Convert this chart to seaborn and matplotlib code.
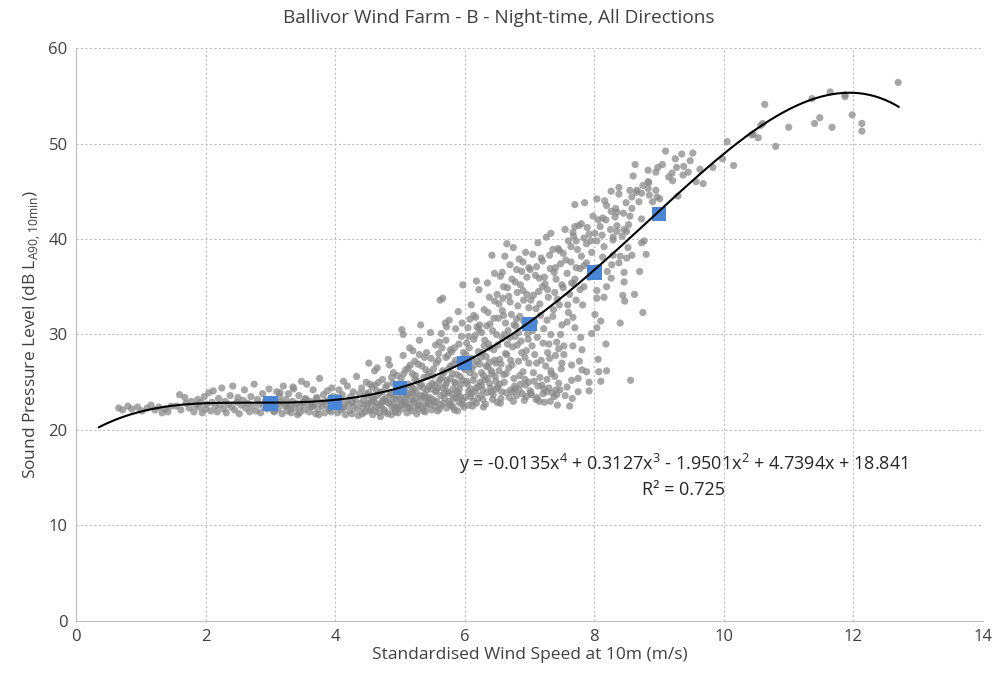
import numpy as np
import pandas as pd
import matplotlib.pyplot as plt
import seaborn as sns

calm_points = [(0.66, 22.3), (0.72, 22.1), (0.80, 22.5), (0.86, 22.2), (0.95, 22.4), (1.02, 22.0),
               (1.10, 22.3), (1.16, 22.6), (1.22, 22.1), (1.28, 22.4), (1.33, 21.8), (1.38, 22.2),
               (1.42, 21.9), (1.47, 22.5)]

light_points = [(1.55, 22.5), (1.60, 23.7), (1.62, 22.1), (1.68, 23.4), (1.70, 22.8), (1.75, 22.3),
                (1.78, 23.0), (1.82, 21.9), (1.85, 22.6), (1.88, 23.2), (1.90, 22.4), (1.93, 22.9),
                (1.95, 21.8), (1.98, 23.5), (2.00, 22.2), (2.02, 22.7), (2.05, 23.9), (2.08, 22.0),
                (2.10, 22.9), (2.12, 24.1), (2.15, 22.5), (2.18, 21.9), (2.20, 23.3), (2.22, 22.6),
                (2.25, 24.4), (2.28, 22.2), (2.30, 23.0), (2.32, 21.8), (2.35, 22.7), (2.38, 23.6),
                (2.40, 22.4), (2.42, 24.6), (2.45, 22.1), (2.48, 22.9), (2.50, 23.4), (2.52, 21.7),
                (2.55, 22.6), (2.58, 23.1), (2.60, 24.2), (2.62, 22.3), (2.65, 22.8), (2.68, 21.9),
                (2.70, 23.5), (2.72, 22.5), (2.75, 24.8), (2.78, 22.0), (2.80, 23.2), (2.82, 22.7),
                (2.85, 21.8), (2.88, 23.8), (2.90, 22.4), (2.92, 23.0), (2.95, 22.2), (2.98, 24.3)]

low_points = [(3.02, 22.4), (3.04, 23.1), (3.06, 21.9), (3.08, 22.7), (3.10, 24.0), (3.12, 22.2),
              (3.14, 23.5), (3.16, 22.9), (3.18, 21.7), (3.20, 24.6), (3.22, 22.5), (3.24, 23.2),
              (3.26, 22.0), (3.28, 23.8), (3.30, 22.6), (3.32, 21.8), (3.34, 23.0), (3.36, 24.3),
              (3.38, 22.3), (3.40, 22.8), (3.42, 21.6), (3.44, 23.6), (3.46, 22.4), (3.48, 25.1),
              (3.50, 22.9), (3.52, 22.1), (3.54, 23.3), (3.56, 24.8), (3.58, 22.6), (3.60, 21.9),
              (3.62, 23.0), (3.64, 22.4), (3.66, 24.2), (3.68, 22.7), (3.70, 21.7), (3.72, 23.4),
              (3.74, 22.2), (3.76, 25.4), (3.78, 22.9), (3.80, 22.5), (3.82, 23.7), (3.84, 21.8),
              (3.86, 22.6), (3.88, 24.1), (3.90, 23.1), (3.92, 22.3), (3.94, 21.9), (3.96, 23.5),
              (3.98, 22.8), (3.05, 22.0), (3.15, 23.9), (3.25, 22.6), (3.35, 24.5), (3.45, 21.8),
              (3.55, 23.2), (3.65, 22.5), (3.75, 21.6), (3.85, 23.0), (3.95, 24.4), (3.11, 22.7),
              (3.31, 22.2), (3.51, 22.9), (3.71, 23.3), (3.91, 22.1)]

moderate_points = [(4.01, 22.6), (4.03, 23.4), (4.04, 21.8), (4.06, 24.2), (4.08, 22.9), (4.09, 22.1),
                   (4.11, 23.7), (4.13, 25.1), (4.14, 22.4), (4.16, 21.6), (4.18, 23.0), (4.19, 24.6),
                   (4.21, 22.7), (4.23, 22.0), (4.24, 23.5), (4.26, 21.7), (4.28, 24.0), (4.29, 22.5),
                   (4.31, 23.2), (4.33, 25.6), (4.34, 22.2), (4.36, 21.5), (4.38, 23.8), (4.39, 22.8),
                   (4.41, 24.4), (4.43, 22.3), (4.44, 23.1), (4.46, 21.9), (4.48, 25.0), (4.49, 22.6),
                   (4.51, 23.6), (4.53, 22.0), (4.54, 24.8), (4.56, 22.9), (4.58, 21.6), (4.59, 23.3),
                   (4.61, 26.2), (4.63, 22.4), (4.64, 24.1), (4.66, 22.7), (4.68, 21.8), (4.69, 23.9),
                   (4.71, 22.5), (4.73, 25.3), (4.74, 23.0), (4.76, 22.1), (4.78, 24.5), (4.79, 23.4),
                   (4.81, 21.7), (4.83, 22.8), (4.84, 26.8), (4.86, 23.7), (4.88, 22.3), (4.89, 24.9),
                   (4.91, 22.6), (4.93, 21.9), (4.94, 23.2), (4.96, 25.7), (4.98, 22.4), (4.99, 24.2),
                   (4.52, 27.0), (4.65, 26.5), (4.70, 21.4), (4.82, 27.4), (4.90, 26.0), (4.97, 23.6),
                   (4.12, 22.3), (4.27, 22.9), (4.42, 21.7), (4.57, 23.1), (4.72, 22.9), (4.87, 21.6),
                   (4.95, 22.2), (4.62, 24.7), (4.47, 23.8),
                   (4.50, 22.8), (4.52, 23.9), (4.55, 22.2), (4.57, 24.5), (4.60, 23.0), (4.62, 22.0),
                   (4.65, 23.6), (4.67, 25.0), (4.70, 22.6), (4.72, 24.0), (4.75, 23.2), (4.77, 21.9),
                   (4.80, 24.7), (4.82, 22.9), (4.85, 23.9), (4.87, 25.5), (4.90, 23.3), (4.92, 22.4),
                   (4.95, 24.6), (4.97, 21.8)]

rising_points = [(5.01, 23.1), (5.02, 25.4), (5.03, 22.2), (5.05, 27.8), (5.06, 24.0), (5.07, 22.7),
                 (5.09, 26.3), (5.10, 23.5), (5.11, 21.8), (5.13, 24.8), (5.14, 22.5), (5.15, 28.6),
                 (5.17, 23.9), (5.18, 22.0), (5.19, 25.9), (5.21, 24.3), (5.22, 22.9), (5.23, 27.2),
                 (5.25, 23.3), (5.26, 21.7), (5.27, 25.1), (5.29, 22.6), (5.30, 29.4), (5.31, 24.6),
                 (5.33, 23.0), (5.34, 26.7), (5.35, 22.3), (5.37, 25.5), (5.38, 23.7), (5.39, 21.9),
                 (5.41, 28.1), (5.42, 24.2), (5.43, 22.8), (5.45, 26.0), (5.46, 23.4), (5.47, 30.2),
                 (5.49, 22.1), (5.50, 24.9), (5.04, 23.6), (5.12, 22.4), (5.20, 23.8), (5.28, 22.2),
                 (5.36, 24.4), (5.44, 23.1), (5.48, 27.5), (5.16, 26.8), (5.24, 25.7), (5.32, 31.0),
                 (5.40, 22.5), (5.08, 24.4), (5.03, 30.5), (5.05, 30.0),
                 (5.01, 22.6), (5.03, 24.1), (5.06, 25.9), (5.08, 22.9), (5.11, 23.8), (5.13, 26.5),
                 (5.16, 22.3), (5.18, 24.5), (5.21, 23.1), (5.23, 25.3), (5.26, 22.5), (5.28, 26.9),
                 (5.31, 23.6), (5.33, 24.8), (5.36, 22.0), (5.38, 27.6), (5.41, 23.4), (5.43, 25.6),
                 (5.46, 22.7), (5.48, 24.3), (5.15, 23.2), (5.25, 24.0), (5.35, 23.5), (5.45, 24.6),
                 (5.05, 23.0), (5.30, 27.9), (5.40, 26.3), (5.20, 28.3),
                 (5.51, 23.2), (5.52, 26.4), (5.54, 22.5), (5.55, 28.9), (5.56, 24.1), (5.58, 22.0),
                 (5.59, 27.3), (5.60, 25.0), (5.62, 33.6), (5.63, 23.6), (5.64, 30.1), (5.66, 33.8),
                 (5.67, 22.8), (5.68, 26.0), (5.70, 24.6), (5.71, 29.4), (5.72, 22.3), (5.74, 27.8),
                 (5.75, 23.9), (5.76, 31.5), (5.78, 25.4), (5.79, 22.6), (5.80, 28.2), (5.82, 24.3),
                 (5.83, 26.9), (5.84, 22.1), (5.86, 30.6), (5.87, 23.4), (5.88, 25.8), (5.90, 32.4),
                 (5.91, 22.9), (5.92, 27.1), (5.94, 24.8), (5.95, 29.8), (5.96, 23.1), (5.98, 26.5),
                 (5.99, 22.4), (5.53, 24.7), (5.57, 23.0), (5.61, 22.2), (5.65, 25.5), (5.69, 23.3),
                 (5.73, 24.0), (5.77, 22.7), (5.81, 23.7), (5.85, 24.9), (5.89, 22.0), (5.93, 23.5),
                 (5.97, 25.2), (5.60, 28.0), (5.72, 30.8), (5.84, 28.6), (5.96, 31.2), (5.66, 24.4),
                 (5.78, 26.7), (5.90, 23.8), (5.97, 35.2),
                 (5.51, 25.7), (5.53, 22.9), (5.56, 27.0), (5.58, 24.4), (5.61, 29.2), (5.63, 22.6),
                 (5.66, 26.2), (5.68, 23.8), (5.71, 27.6), (5.73, 25.2), (5.76, 23.0), (5.78, 28.4),
                 (5.81, 25.9), (5.83, 23.3), (5.86, 27.3), (5.88, 24.1), (5.91, 29.0), (5.93, 25.6),
                 (5.96, 22.7), (5.98, 28.1), (5.55, 24.0), (5.65, 28.6), (5.75, 26.4), (5.85, 25.0),
                 (5.95, 26.9), (5.62, 25.3), (5.72, 24.9), (5.82, 22.4), (5.92, 24.3), (5.70, 31.2)]

spread_points = [(6.01, 23.4), (6.02, 27.9), (6.03, 25.1), (6.05, 30.7), (6.06, 22.6), (6.07, 28.6),
                 (6.09, 24.3), (6.10, 33.1), (6.11, 26.4), (6.13, 23.0), (6.14, 29.5), (6.15, 25.7),
                 (6.17, 31.8), (6.18, 22.8), (6.19, 27.2), (6.21, 24.6), (6.22, 34.7), (6.23, 26.9),
                 (6.25, 23.6), (6.26, 30.2), (6.27, 28.1), (6.29, 22.4), (6.30, 32.6), (6.31, 25.3),
                 (6.33, 27.7), (6.34, 23.9), (6.35, 35.4), (6.37, 29.0), (6.38, 24.9), (6.39, 31.1),
                 (6.41, 26.2), (6.42, 38.3), (6.43, 23.2), (6.45, 28.4), (6.46, 33.5), (6.47, 25.6),
                 (6.49, 30.0), (6.50, 22.9), (6.04, 24.8), (6.08, 26.0), (6.12, 22.5), (6.16, 24.0),
                 (6.20, 23.3), (6.24, 25.0), (6.28, 24.2), (6.32, 22.7), (6.36, 26.6), (6.40, 24.4),
                 (6.44, 23.7), (6.48, 27.0), (6.06, 29.8), (6.14, 32.0), (6.22, 30.5), (6.30, 28.8),
                 (6.38, 33.9), (6.46, 36.4), (6.10, 23.8), (6.26, 24.7), (6.34, 30.9), (6.42, 25.9),
                 (6.50, 34.2), (6.18, 35.6),
                 (6.01, 26.3), (6.03, 29.1), (6.06, 24.0), (6.08, 31.6), (6.11, 27.5), (6.13, 25.2),
                 (6.16, 29.9), (6.18, 24.4), (6.21, 28.2), (6.23, 31.0), (6.26, 26.0), (6.28, 23.2),
                 (6.31, 29.4), (6.33, 26.7), (6.36, 32.3), (6.38, 27.1), (6.41, 24.0), (6.43, 30.4),
                 (6.46, 27.3), (6.48, 25.1), (6.05, 27.0), (6.15, 26.8), (6.25, 27.6), (6.35, 25.4),
                 (6.45, 31.7), (6.09, 23.5), (6.19, 30.8), (6.29, 25.7), (6.39, 28.6), (6.49, 24.3),
                 (6.51, 24.5), (6.52, 31.7), (6.54, 27.4), (6.55, 36.1), (6.56, 23.3), (6.58, 29.6),
                 (6.59, 33.8), (6.60, 25.8), (6.62, 38.2), (6.63, 28.0), (6.64, 23.9), (6.66, 34.9),
                 (6.67, 30.4), (6.68, 26.5), (6.70, 37.3), (6.71, 24.2), (6.72, 32.1), (6.74, 28.7),
                 (6.75, 39.1), (6.76, 25.4), (6.78, 35.5), (6.79, 30.9), (6.80, 23.6), (6.82, 33.0),
                 (6.83, 27.2), (6.84, 37.9), (6.86, 24.8), (6.87, 29.3), (6.88, 36.6), (6.90, 26.1),
                 (6.91, 31.4), (6.92, 23.1), (6.94, 38.6), (6.95, 28.3), (6.96, 34.2), (6.98, 25.0),
                 (6.99, 32.8), (6.53, 26.2), (6.57, 24.0), (6.61, 30.0), (6.65, 27.9), (6.69, 23.4),
                 (6.73, 26.8), (6.77, 24.6), (6.81, 28.9), (6.85, 31.9), (6.89, 23.8), (6.93, 27.6),
                 (6.97, 30.1), (6.60, 35.0), (6.70, 33.4), (6.80, 36.8), (6.90, 34.6), (6.99, 37.0),
                 (6.55, 22.8), (6.75, 23.0), (6.95, 23.5), (6.65, 39.5), (6.85, 25.7), (6.58, 32.5),
                 (6.78, 29.8),
                 (6.51, 28.9), (6.53, 33.2), (6.56, 26.9), (6.58, 36.5), (6.61, 25.0), (6.63, 31.2),
                 (6.66, 29.0), (6.68, 34.0), (6.71, 27.3), (6.73, 35.8), (6.76, 31.0), (6.78, 24.3),
                 (6.81, 34.4), (6.83, 30.2), (6.86, 35.2), (6.88, 28.1), (6.91, 33.6), (6.93, 25.3),
                 (6.96, 36.0), (6.98, 29.5), (6.54, 24.8), (6.64, 25.9), (6.74, 24.0), (6.84, 24.2),
                 (6.94, 24.7), (6.60, 32.0), (6.70, 29.7), (6.80, 31.6), (6.90, 37.6), (6.99, 27.0)]

strong_points = [(7.01, 24.1), (7.02, 33.6), (7.04, 28.8), (7.05, 38.4), (7.06, 26.0), (7.08, 31.3),
                 (7.09, 36.2), (7.10, 23.2), (7.12, 29.7), (7.13, 39.6), (7.14, 34.5), (7.16, 25.5),
                 (7.17, 32.0), (7.18, 27.3), (7.20, 37.7), (7.21, 23.8), (7.22, 30.6), (7.24, 35.3),
                 (7.25, 26.7), (7.26, 40.2), (7.28, 28.1), (7.29, 33.9), (7.30, 24.4), (7.32, 36.9),
                 (7.33, 30.0), (7.34, 25.9), (7.36, 38.9), (7.37, 32.6), (7.38, 23.5), (7.40, 27.8),
                 (7.41, 35.8), (7.42, 29.2), (7.44, 39.0), (7.45, 24.9), (7.46, 33.1), (7.48, 37.4),
                 (7.49, 26.4), (7.50, 31.0), (7.03, 23.7), (7.07, 25.1), (7.11, 27.0), (7.15, 23.0),
                 (7.19, 24.7), (7.23, 22.9), (7.27, 25.3), (7.31, 27.5), (7.35, 23.9), (7.39, 25.6),
                 (7.43, 22.6), (7.47, 24.2), (7.15, 35.9), (7.27, 31.5), (7.39, 34.4), (7.05, 30.4),
                 (7.45, 28.5), (7.33, 40.6),
                 (7.01, 36.8), (7.03, 30.9), (7.06, 34.1), (7.08, 27.9), (7.11, 37.1), (7.13, 24.6),
                 (7.16, 33.2), (7.18, 38.0), (7.21, 29.1), (7.23, 36.0), (7.26, 24.0), (7.28, 34.7),
                 (7.31, 38.3), (7.33, 26.2), (7.36, 31.9), (7.38, 36.5), (7.41, 24.2), (7.43, 33.7),
                 (7.46, 38.8), (7.48, 30.0), (7.02, 23.9), (7.12, 23.4), (7.22, 24.3), (7.32, 23.0),
                 (7.42, 23.7), (7.10, 32.7), (7.20, 35.0), (7.30, 29.0), (7.40, 37.0), (7.50, 35.2),
                 (7.52, 38.5), (7.55, 41.0), (7.58, 36.4), (7.60, 39.8), (7.62, 34.2), (7.64, 37.6),
                 (7.68, 40.3), (7.70, 35.8), (7.74, 38.9), (7.78, 36.9), (7.80, 41.6), (7.84, 37.2),
                 (7.88, 39.5), (7.92, 36.0), (7.96, 38.6), (7.98, 42.4), (7.70, 43.6), (7.85, 43.8),
                 (7.72, 39.8), (7.84, 40.1), (7.95, 39.8), (7.67, 40.7), (7.89, 41.2), (7.70, 41.3),
                 (7.62, 22.5), (7.75, 24.0), (7.92, 24.1), (7.92, 25.0), (7.58, 24.5), (7.65, 25.2),
                 (7.75, 25.4), (7.81, 26.3), (7.50, 27.0), (7.65, 26.8), (7.53, 27.9), (7.53, 28.8),
                 (7.67, 28.8), (7.81, 28.4), (7.79, 29.7), (7.96, 30.1), (7.70, 30.7), (7.58, 31.3),
                 (7.67, 31.8), (7.82, 33.1), (7.72, 33.6), (7.59, 33.1), (7.78, 34.7), (7.65, 35.4),
                 (7.52, 34.9), (7.56, 37.8), (7.60, 32.3), (7.64, 39.2), (7.68, 35.3), (7.72, 37.0),
                 (7.76, 41.4), (7.80, 38.2), (7.84, 35.0), (7.88, 37.5), (7.92, 40.5), (7.96, 36.3),
                 (7.55, 23.6), (7.66, 23.3), (7.77, 27.2), (7.88, 26.1)]

high_points = [(8.04, 44.2), (8.16, 44.0), (8.19, 43.5), (8.33, 43.2), (8.49, 43.8), (8.58, 43.2),
               (8.35, 42.8), (8.26, 42.9), (8.73, 42.1), (8.13, 42.2), (8.18, 42.0), (8.06, 42.0),
               (8.32, 42.3), (8.09, 41.3), (8.01, 40.6), (8.35, 41.4), (8.46, 41.0), (8.53, 41.5),
               (8.12, 40.4), (8.29, 40.2), (8.43, 40.3), (8.50, 40.8), (8.04, 39.8), (8.77, 39.8),
               (8.52, 39.1), (8.29, 39.9), (8.38, 44.7), (8.58, 44.4), (8.69, 43.9), (8.97, 44.4),
               (9.01, 44.2), (8.90, 43.9), (9.29, 44.5), (8.60, 46.6), (8.83, 46.0), (8.84, 45.9),
               (8.83, 45.3), (8.38, 45.4), (8.26, 45.0), (8.55, 45.1), (8.66, 45.1), (8.73, 44.8),
               (9.10, 49.2), (9.27, 47.5), (9.38, 47.6), (8.98, 47.5), (8.83, 47.2), (8.63, 47.8),
               (8.95, 47.0), (9.20, 46.9), (9.37, 46.7), (9.68, 45.8), (9.57, 46.0), (9.21, 46.1),
               (8.75, 32.3), (8.56, 25.2), (8.80, 38.4), (8.73, 39.6), (8.58, 38.3), (8.46, 36.5),
               (8.46, 35.5), (8.44, 34.1), (8.47, 33.5), (8.26, 35.9), (8.19, 35.0), (8.15, 33.9),
               (8.04, 34.6), (8.04, 33.8), (8.01, 32.1), (8.10, 31.4), (8.04, 30.7), (8.18, 29.0),
               (8.06, 27.4), (8.07, 26.1), (8.19, 26.2), (8.10, 25.1), (8.29, 38.3), (8.27, 37.3),
               (8.38, 37.5), (8.40, 38.2), (8.13, 38.1),
               (8.05, 37.0), (8.15, 39.2), (8.25, 41.0), (8.35, 40.8), (8.45, 42.7), (8.55, 42.4),
               (8.65, 44.9), (8.75, 45.6), (8.85, 44.6), (8.95, 45.1), (9.05, 47.8), (9.15, 46.5),
               (9.25, 48.4), (9.35, 48.9), (9.45, 47.0), (8.20, 36.6), (8.50, 38.0), (8.40, 31.2),
               (8.70, 36.6), (8.62, 34.2)]

top_points = [(12.69, 56.4), (11.64, 55.4), (11.87, 55.1), (11.87, 54.9), (11.36, 54.7), (10.63, 54.1),
              (11.98, 53.0), (12.13, 52.1), (12.13, 51.3), (11.40, 52.1), (11.48, 52.7), (11.67, 51.7),
              (11.00, 51.7), (10.60, 52.1), (10.57, 51.9), (10.43, 50.9), (10.53, 50.6), (10.80, 49.7),
              (10.05, 50.2), (9.98, 48.4), (10.15, 47.7), (9.52, 49.0), (9.48, 48.2), (9.63, 47.3),
              (9.83, 47.5), (10.45, 51.0)]

# Blue squares: bin-averaged levels at integer wind speeds
bin_speed = [3, 4, 5, 6, 7, 8, 9]
bin_level = [22.8, 22.9, 24.4, 27.0, 31.1, 36.5, 42.6]

# 4th order polynomial trendline as printed on the chart (highest power first)
trend_coeffs = [-0.0135, 0.3127, -1.9501, 4.7394, 18.841]
trend_start, trend_end = 0.35, 12.7

segments = [calm_points, light_points, low_points, moderate_points, rising_points,
            spread_points, strong_points, high_points, top_points]
scatter_df = pd.DataFrame([p for seg in segments for p in seg], columns=['speed', 'level'])
bins_df = pd.DataFrame({'speed': bin_speed, 'level': bin_level})
trend_x = np.linspace(trend_start, trend_end, 300)
trend_df = pd.DataFrame({'speed': trend_x, 'level': np.polyval(trend_coeffs, trend_x)})

sns.set_style('white')
plt.rcParams['font.family'] = ['Open Sans', 'DejaVu Sans']

fig = plt.figure(figsize=(9.97, 6.8), dpi=100)
ax = fig.add_axes([0.0762, 0.0868, 0.9098, 0.8426])

sns.scatterplot(data=scatter_df, x='speed', y='level', ax=ax, color='#8a8a8a', alpha=0.75,
                s=27, edgecolor='none', zorder=3)
sns.scatterplot(data=bins_df, x='speed', y='level', ax=ax, color='#4a86d6', marker='s',
                s=110, edgecolor='none', zorder=4)
sns.lineplot(data=trend_df, x='speed', y='level', ax=ax, color='black', linewidth=1.5, zorder=5)

ax.set_xlim(0, 14)
ax.set_ylim(0, 60)
ax.set_xticks(range(0, 15, 2))
ax.set_yticks(range(0, 61, 10))
ax.grid(True, color='#bfbfbf', linestyle=(0, (2, 2)), linewidth=0.8)
ax.set_axisbelow(True)
for side in ['top', 'right']:
    ax.spines[side].set_visible(False)
for side in ['left', 'bottom']:
    ax.spines[side].set_color('#bfbfbf')
    ax.spines[side].set_linewidth(0.8)
ax.tick_params(length=0, labelsize=12, labelcolor='#404040', pad=6)

fig.text(0.5, 1 - 18 / 680, 'Ballivor Wind Farm - B - Night-time, All Directions',
         fontsize=13.7, color='#404040', ha='center', va='center')
ax.set_xlabel('Standardised Wind Speed at 10m (m/s)', fontsize=12.5, color='#404040', labelpad=1)
ax.set_ylabel(r'Sound Pressure Level (dB L$_{\mathregular{A90,10min}}$)', fontsize=12.5,
              color='#404040', labelpad=4)

ax.text(9.37, 16.4, r'y = -0.0135x$^{\mathregular{4}}$ + 0.3127x$^{\mathregular{3}}$ - 1.9501x$^{\mathregular{2}}$ + 4.7394x + 18.841',
        fontsize=13, color='#262626', ha='center', va='center')
ax.text(9.37, 13.7, 'R² = 0.725', fontsize=13, color='#262626', ha='center', va='center')

fig.savefig('out.png', dpi=100)
